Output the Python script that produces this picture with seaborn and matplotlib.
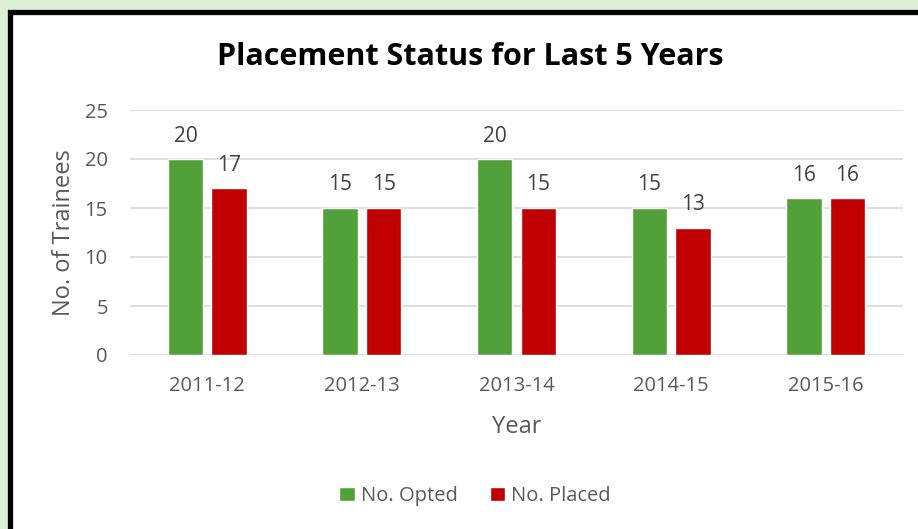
import matplotlib
matplotlib.use('Agg')
import pandas as pd
import matplotlib.pyplot as plt
import seaborn as sns
from matplotlib.patches import Rectangle

years = ['2011-12', '2012-13', '2013-14', '2014-15', '2015-16']
opted = [20, 15, 20, 15, 16]
placed = [17, 15, 15, 13, 16]
series = ['No. Opted', 'No. Placed']
colors = ['#52A03A', '#C00000']

df = pd.DataFrame({
    'Year': years * 2,
    'Series': [series[0]] * len(years) + [series[1]] * len(years),
    'Count': opted + placed,
})

sns.set_style('white')
plt.rcParams['font.family'] = ['Open Sans', 'DejaVu Sans']

fig = plt.figure(figsize=(9.18, 5.29), dpi=100, facecolor='#DDEFD5')
# white chart panel with black frame (cropped on right/bottom)
fig.patches.append(Rectangle((9.5 / 918, -0.1), 1.2, 1 - 11.5 / 529 + 0.1,
                             transform=fig.transFigure, facecolor='white',
                             edgecolor='black', linewidth=3.8, zorder=-5))

ax = fig.add_axes([130 / 918, 1 - 355 / 529, (903 - 130) / 918, (355 - 110) / 529])
ax.set_facecolor('none')
ax.set_zorder(2)
sns.barplot(data=df, x='Year', y='Count', hue='Series', palette=colors,
            width=0.563, gap=0.184, ax=ax, legend=True, saturation=1)

for c in ax.containers:
    ax.bar_label(c, padding=9, fontsize=15, color='#404040')

ax.set_ylim(0, 25)
ax.set_yticks(range(0, 26, 5))
ax.yaxis.grid(True, color='#D9D9D9', linewidth=1.2)
ax.set_axisbelow(True)
for s in ax.spines.values():
    s.set_visible(False)
ax.tick_params(axis='both', length=0, labelsize=14.5, labelcolor='#595959')
ax.tick_params(axis='y', pad=16)
ax.tick_params(axis='x', pad=15)
ax.set_xlabel('Year', fontsize=17, color='#595959', labelpad=14)
ax.set_ylabel('No. of Trainees', fontsize=17, color='#595959', labelpad=6)

fig.text(470 / 918, 1 - 57 / 529, 'Placement Status for Last 5 Years',
         ha='center', va='center', fontsize=22, fontweight='bold', color='black',
         zorder=3)

handles, labels = ax.get_legend_handles_labels()
ax.legend_.remove()
leg = fig.legend(handles, labels, loc='center', bbox_to_anchor=(475 / 918, 1 - 496 / 529),
                 ncol=2, frameon=False, fontsize=14.5, labelcolor='#595959',
                 handlelength=0.75, handleheight=0.75, handletextpad=0.3, columnspacing=1.6)
leg.set_zorder(3)

fig.savefig('out.png', dpi=100, facecolor=fig.get_facecolor())
